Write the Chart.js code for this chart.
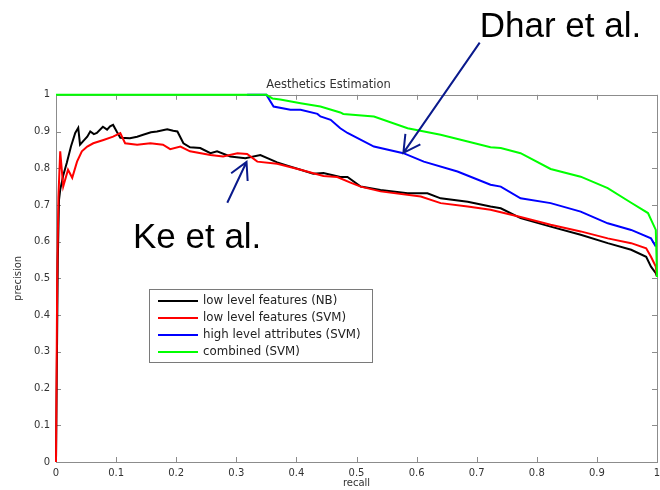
<!DOCTYPE html>
<html>
<head>
<meta charset="utf-8">
<script src="https://cdn.jsdelivr.net/npm/chart.js@4.4.1/dist/chart.umd.min.js"></script>
<style>
  html, body { margin: 0; padding: 0; background: #fff; }
  canvas { display: block; }
</style>
</head>
<body>
<canvas id="c" width="660" height="490"></canvas>
<script>
// Valores (recall, precision)
const nbRecall = [0, 0.003, 0.005, 0.007, 0.012, 0.018, 0.025, 0.032, 0.037, 0.04, 0.046, 0.052, 0.057, 0.063, 0.068, 0.078, 0.085, 0.09, 0.095, 0.101, 0.107, 0.123, 0.135, 0.145, 0.158, 0.168, 0.185, 0.195, 0.202, 0.212, 0.223, 0.24, 0.257, 0.268, 0.29, 0.315, 0.34, 0.368, 0.385, 0.407, 0.428, 0.445, 0.473, 0.485, 0.507, 0.54, 0.585, 0.618, 0.64, 0.685, 0.723, 0.74, 0.773, 0.823, 0.873, 0.918, 0.957, 0.982, 0.99, 0.998, 1];
const nbPrecision = [0, 0.55, 0.714, 0.741, 0.78, 0.815, 0.86, 0.896, 0.91, 0.864, 0.875, 0.886, 0.9, 0.893, 0.896, 0.913, 0.905, 0.914, 0.918, 0.9, 0.883, 0.882, 0.886, 0.891, 0.898, 0.9, 0.906, 0.902, 0.9, 0.868, 0.857, 0.855, 0.841, 0.846, 0.832, 0.827, 0.836, 0.816, 0.807, 0.796, 0.785, 0.787, 0.776, 0.776, 0.75, 0.741, 0.732, 0.732, 0.718, 0.709, 0.696, 0.691, 0.664, 0.641, 0.619, 0.596, 0.578, 0.559, 0.532, 0.514, 0.505];

const svmRecall = [0, 0.002, 0.004, 0.007, 0.012, 0.02, 0.027, 0.035, 0.043, 0.052, 0.062, 0.079, 0.095, 0.107, 0.115, 0.135, 0.157, 0.178, 0.19, 0.207, 0.223, 0.257, 0.278, 0.302, 0.318, 0.335, 0.368, 0.407, 0.445, 0.468, 0.49, 0.507, 0.54, 0.607, 0.64, 0.685, 0.723, 0.773, 0.823, 0.873, 0.918, 0.957, 0.982, 0.99, 0.998, 1];
const svmPrecision = [0, 0.5, 0.72, 0.846, 0.75, 0.796, 0.774, 0.818, 0.846, 0.859, 0.868, 0.877, 0.886, 0.896, 0.868, 0.864, 0.868, 0.864, 0.852, 0.859, 0.846, 0.836, 0.832, 0.841, 0.839, 0.818, 0.812, 0.796, 0.779, 0.776, 0.761, 0.75, 0.737, 0.723, 0.705, 0.696, 0.687, 0.667, 0.646, 0.628, 0.609, 0.596, 0.582, 0.559, 0.532, 0.505];

const attrRecall = [0.318, 0.35, 0.362, 0.39, 0.407, 0.435, 0.44, 0.457, 0.473, 0.485, 0.529, 0.578, 0.612, 0.668, 0.723, 0.74, 0.773, 0.823, 0.873, 0.918, 0.957, 0.99, 0.998];
const attrPrecision = [1, 1, 0.968, 0.959, 0.959, 0.948, 0.941, 0.932, 0.909, 0.896, 0.859, 0.841, 0.818, 0.791, 0.755, 0.75, 0.718, 0.705, 0.682, 0.65, 0.632, 0.609, 0.587];

const combRecall = [0, 0.35, 0.36, 0.373, 0.407, 0.44, 0.473, 0.478, 0.529, 0.585, 0.64, 0.685, 0.723, 0.74, 0.773, 0.823, 0.873, 0.918, 0.957, 0.985, 0.998, 1];
const combPrecision = [1, 1, 0.99, 0.987, 0.977, 0.968, 0.952, 0.948, 0.941, 0.909, 0.891, 0.873, 0.857, 0.855, 0.841, 0.798, 0.777, 0.746, 0.706, 0.678, 0.632, 0.504];

const seriesNames = ['low level features (NB)', 'low level features (SVM)', 'high level attributes (SVM)', 'combined (SVM)'];
const xTicks = [0, 0.1, 0.2, 0.3, 0.4, 0.5, 0.6, 0.7, 0.8, 0.9, 1];
const yTicks = [0, 0.1, 0.2, 0.3, 0.4, 0.5, 0.6, 0.7, 0.8, 0.9, 1];

// Fuentes: la figura original tiene el texto chico algo ancho, DejaVu se parece mas
const FONT_SMALL = '"DejaVu Sans", Verdana, sans-serif';
const FONT_BIG = '"Liberation Sans", Arial, Helvetica, sans-serif';

// Junta dos arreglos en puntos {x, y}
function puntos(xs, ys) {
  return xs.map((v, i) => ({ x: v, y: ys[i] }));
}

function serie(label, xs, ys, color, order) {
  return {
    label: label,
    data: puntos(xs, ys),
    borderColor: color,
    backgroundColor: color,
    borderWidth: 2,
    pointRadius: 0,
    showLine: true,
    tension: 0,
    clip: 4,
    order: order
  };
}

// Flecha con punta abierta, en coordenadas de datos
function flecha(ctx, sx, sy, x0, y0, x1, y1) {
  const ax = sx.getPixelForValue(x0), ay = sy.getPixelForValue(y0);
  const bx = sx.getPixelForValue(x1), by = sy.getPixelForValue(y1);
  const ang = Math.atan2(by - ay, bx - ax), L = 19, s = 0.5;
  ctx.beginPath();
  ctx.moveTo(ax, ay);
  ctx.lineTo(bx, by);
  ctx.moveTo(bx - L * Math.cos(ang - s), by - L * Math.sin(ang - s));
  ctx.lineTo(bx, by);
  ctx.lineTo(bx - L * Math.cos(ang + s), by - L * Math.sin(ang + s));
  ctx.stroke();
}

// Caja del eje con marcas hacia adentro (estilo matlab)
const cajaEjes = {
  id: 'cajaEjes',
  beforeDatasetsDraw(chart) {
    const { ctx, chartArea: a, scales: { x, y } } = chart;
    ctx.save();
    ctx.strokeStyle = '#8c8c8c';
    ctx.lineWidth = 1;
    ctx.strokeRect(Math.round(a.left) + 0.5, Math.round(a.top) + 0.5, Math.round(a.right - a.left), Math.round(a.bottom - a.top));
    ctx.beginPath();
    xTicks.forEach(v => {
      const px = Math.round(x.getPixelForValue(v)) + 0.5;
      ctx.moveTo(px, a.bottom); ctx.lineTo(px, a.bottom - 5);
      ctx.moveTo(px, a.top); ctx.lineTo(px, a.top + 5);
    });
    yTicks.forEach(v => {
      const py = Math.round(y.getPixelForValue(v)) + 0.5;
      ctx.moveTo(a.left, py); ctx.lineTo(a.left + 5, py);
      ctx.moveTo(a.right, py); ctx.lineTo(a.right - 5, py);
    });
    ctx.stroke();
    ctx.restore();
  },
  afterDraw(chart) {
    const { ctx, scales: { x, y } } = chart;
    ctx.save();
    // Leyenda dentro del area
    const lx = 149, ly = 289, lw = 223, lh = 73;
    ctx.fillStyle = '#fff';
    ctx.fillRect(lx, ly, lw, lh);
    ctx.strokeStyle = '#7a7a7a';
    ctx.lineWidth = 1;
    ctx.strokeRect(lx + 0.5, ly + 0.5, lw, lh);
    ctx.font = '11.8px ' + FONT_SMALL;
    ctx.textBaseline = 'middle';
    chart.data.datasets.forEach((d, i) => {
      const ry = ly + 12 + i * 17;
      ctx.strokeStyle = d.borderColor;
      ctx.lineWidth = 2;
      ctx.beginPath();
      ctx.moveTo(lx + 9, ry); ctx.lineTo(lx + 49, ry);
      ctx.stroke();
      ctx.fillStyle = '#222';
      ctx.fillText(d.label, lx + 54, ry);
    });

    // Anotaciones
    ctx.strokeStyle = '#0a1a8c';
    ctx.lineWidth = 2;
    flecha(ctx, x, y, 0.705, 1.142, 0.578, 0.842);
    flecha(ctx, x, y, 0.285, 0.706, 0.317, 0.817);
    ctx.fillStyle = '#000';
    ctx.font = '35px ' + FONT_BIG;
    ctx.textBaseline = 'alphabetic';
    ctx.fillText('Dhar et al.', x.getPixelForValue(0.705), y.getPixelForValue(1.158));
    ctx.fillText('Ke et al.', x.getPixelForValue(0.128), y.getPixelForValue(0.583));
    ctx.restore();
  }
};

const ctx = document.getElementById('c').getContext('2d');

const config = {
  type: 'scatter',
  data: {
    datasets: [
      serie(seriesNames[0], nbRecall, nbPrecision, '#000000', 4),
      serie(seriesNames[1], svmRecall, svmPrecision, '#ff0000', 3),
      serie(seriesNames[2], attrRecall, attrPrecision, '#0000ff', 2),
      serie(seriesNames[3], combRecall, combPrecision, '#00ff00', 1)
    ]
  },
  options: {
    responsive: false,
    animation: false,
    devicePixelRatio: 1,
    layout: { padding: { left: 0, right: 3, top: 0, bottom: 0 } },
    plugins: {
      legend: { display: false },
      tooltip: { enabled: false },
      title: {
        display: true,
        text: 'Aesthetics Estimation',
        color: '#333',
        font: { family: FONT_SMALL, size: 11.5, weight: 'normal' },
        padding: { top: 78, bottom: 3 }
      }
    },
    scales: {
      x: {
        type: 'linear',
        min: 0,
        max: 1,
        afterBuildTicks: s => { s.ticks = xTicks.map(v => ({ value: v })); },
        afterFit: s => { s.height = 28; s.paddingLeft = 0; s.paddingRight = 0; },
        grid: { display: false, drawTicks: false },
        border: { display: false },
        ticks: { padding: 5, color: '#333', font: { family: FONT_SMALL, size: 10 }, maxRotation: 0, callback: v => String(v) },
        title: { display: true, text: 'recall', color: '#333', font: { family: FONT_SMALL, size: 10 }, padding: { top: 0, bottom: 1 } }
      },
      y: {
        type: 'linear',
        min: 0,
        max: 1,
        afterBuildTicks: s => { s.ticks = yTicks.map(v => ({ value: v })); },
        afterFit: s => { s.width = 56; s.paddingTop = 0; s.paddingBottom = 0; },
        grid: { display: false, drawTicks: false },
        border: { display: false },
        ticks: { padding: 6, color: '#333', font: { family: FONT_SMALL, size: 10 }, callback: v => String(v) },
        title: { display: true, text: 'precision', color: '#333', font: { family: FONT_SMALL, size: 10 }, padding: { top: 12, bottom: 0 } }
      }
    }
  },
  plugins: [cajaEjes]
};

var miChart = new Chart(ctx, config);
</script>
</body>
</html>
